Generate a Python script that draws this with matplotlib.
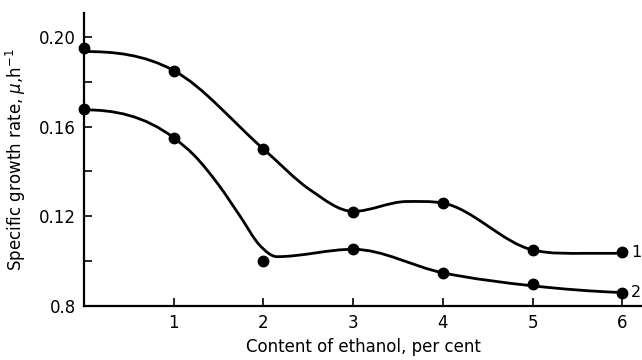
import numpy as np
import matplotlib
matplotlib.use("Agg")
import matplotlib.pyplot as plt
from matplotlib.path import Path
from matplotlib.patches import PathPatch

# Measured points
x_pts = [0, 1, 2, 3, 4, 5, 6]
rate_1 = [0.195, 0.185, 0.150, 0.122, 0.126, 0.105, 0.104]
rate_2 = [0.168, 0.155, 0.100, 0.1055, 0.0946, 0.090, 0.086]

# Hand-drawn smooth curves (knots)
curve1_x = [0, 1, 2, 2.52, 3, 3.6, 4, 5, 5.6, 6]
curve1_y = [0.1935, 0.185, 0.150, 0.1318, 0.1222, 0.1266, 0.1259, 0.105, 0.1035, 0.1035]
curve2_x = [0, 1, 1.22, 1.5, 1.74, 1.96, 2.15, 3, 4, 5, 6]
curve2_y = [0.1675, 0.155, 0.1475, 0.134, 0.120, 0.107, 0.102, 0.1053, 0.0948, 0.089, 0.086]

series_labels = ["1", "2"]
y_major = [0.08, 0.12, 0.16, 0.20]
y_major_labels = ["0.8", "0.12", "0.16", "0.20"]
y_minor = [0.10, 0.14, 0.18]
x_ticks = [1, 2, 3, 4, 5, 6]

plt.rcParams['font.family'] = ['DejaVu Sans']

fig = plt.figure(figsize=(6.42, 3.6), dpi=100)
ax = fig.add_axes([0.131, 0.15, 0.869, 0.814])


def smooth_path(xs, ys):
    xs = np.asarray(xs, float)
    ys = np.asarray(ys, float)
    n = len(xs)
    m = np.zeros(n)
    for i in range(n):
        if i == 0:
            m[i] = 0.0
        elif i == n - 1:
            m[i] = (ys[-1] - ys[-2]) / (xs[-1] - xs[-2]) * 0.5
        else:
            d0 = (ys[i] - ys[i - 1]) / (xs[i] - xs[i - 1])
            d1 = (ys[i + 1] - ys[i]) / (xs[i + 1] - xs[i])
            if d0 * d1 <= 0:
                m[i] = 0.0
            else:
                w0 = xs[i + 1] - xs[i]
                w1 = xs[i] - xs[i - 1]
                m[i] = (w0 * d0 + w1 * d1) / (w0 + w1)
    verts = [(xs[0], ys[0])]
    codes = [Path.MOVETO]
    for i in range(n - 1):
        h = xs[i + 1] - xs[i]
        verts += [(xs[i] + h / 3, ys[i] + m[i] * h / 3),
                  (xs[i + 1] - h / 3, ys[i + 1] - m[i + 1] * h / 3),
                  (xs[i + 1], ys[i + 1])]
        codes += [Path.CURVE4] * 3
    return Path(verts, codes)


for cx, cy in [(curve1_x, curve1_y), (curve2_x, curve2_y)]:
    ax.add_patch(PathPatch(smooth_path(cx, cy), facecolor='none',
                           edgecolor='black', lw=2.0, clip_on=False))

for ys, lab in [(rate_1, series_labels[0]), (rate_2, series_labels[1])]:
    ax.plot(x_pts, ys, 'o', color='black', ms=7.5, clip_on=False, zorder=3)
    ax.text(x_pts[-1] + 0.1, ys[-1], lab, fontsize=11.5, va='center', ha='left')

ax.set_xlim(0, 6.22)
ax.set_ylim(0.08, 0.2107)
ax.set_yticks(y_major)
ax.set_yticklabels(y_major_labels)
ax.set_yticks(y_minor, minor=True)
ax.set_xticks(x_ticks)
ax.set_xticklabels([str(t) for t in x_ticks])

for s in ['top', 'right']:
    ax.spines[s].set_visible(False)
for s in ['left', 'bottom']:
    ax.spines[s].set_linewidth(1.6)

ax.tick_params(axis='both', which='both', direction='in', width=1.2,
               labelsize=12, pad=6)
ax.tick_params(axis='both', which='major', length=6)
ax.tick_params(axis='y', which='minor', length=6)

ax.set_xlabel("Content of ethanol, per cent", fontsize=12, labelpad=4)
ax.set_ylabel("Specific growth rate, $\\mu$,h$^{-1}$", fontsize=12, labelpad=8)

fig.savefig("out.png", dpi=100)
